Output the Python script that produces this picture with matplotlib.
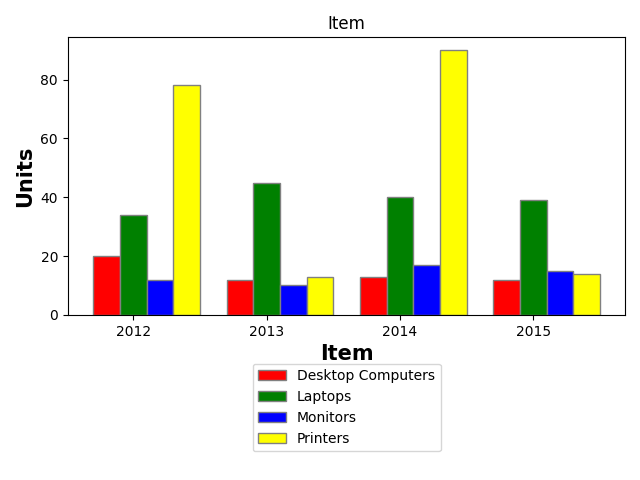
import numpy as np
import matplotlib
matplotlib.use('Agg')
import matplotlib.pyplot as plt

years = ['2012', '2013', '2014', '2015']
desktops = [20, 12, 13, 12]
laptops = [34, 45, 40, 39]
monitors = [12, 10, 17, 15]
printers = [78, 13, 90, 14]

bar_w = 0.2
r1 = np.arange(len(years))
r2 = r1 + bar_w
r3 = r2 + bar_w
r4 = r3 + bar_w

fig, ax = plt.subplots(figsize=(6.4, 4.8), dpi=100)
fig.subplots_adjust(left=0.106, right=0.977, top=0.923, bottom=0.344)

ax.bar(r1, desktops, color='red', width=bar_w, edgecolor='grey', label='Desktop Computers')
ax.bar(r2, laptops, color='green', width=bar_w, edgecolor='grey', label='Laptops')
ax.bar(r3, monitors, color='blue', width=bar_w, edgecolor='grey', label='Monitors')
ax.bar(r4, printers, color='yellow', width=bar_w, edgecolor='grey', label='Printers')

ax.set_xlabel('Item', fontweight='bold', fontsize=15)
ax.set_ylabel('Units', fontweight='bold', fontsize=15)
ax.set_xticks(r2)
ax.set_xticklabels(years)
ax.set_title('Item')

ax.legend(loc='upper center', bbox_to_anchor=(0.5, -0.15))

plt.savefig('out.png', dpi=100)
